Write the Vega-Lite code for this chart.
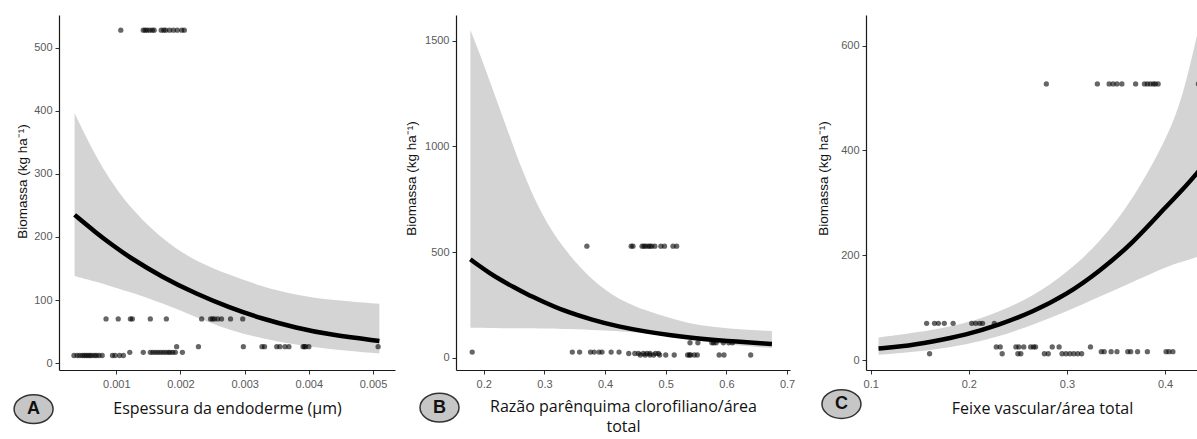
{
  "$schema": "https://vega.github.io/schema/vega-lite/v6.json",
  "padding": {"left": 11, "top": 15, "right": 0, "bottom": 3},
  "autosize": {"type": "pad"},
  "bounds": "flush",
  "spacing": 61,
  "background": "white",
  "datasets": {
    "ribA": [
      {"x": 0.00035, "y": 138, "y2": 396}, {"x": 0.00068, "y": 129, "y2": 327}, {"x": 0.00094, "y": 121, "y2": 285},
      {"x": 0.0012, "y": 113, "y2": 248}, {"x": 0.00172, "y": 95, "y2": 195}, {"x": 0.00224, "y": 73, "y2": 161},
      {"x": 0.00276, "y": 52, "y2": 140}, {"x": 0.00328, "y": 39, "y2": 121}, {"x": 0.0038, "y": 29, "y2": 108},
      {"x": 0.00432, "y": 22, "y2": 100}, {"x": 0.0051, "y": 15, "y2": 94}
    ],
    "fitA": [
      {"x": 0.00035, "y": 235}, {"x": 0.00068, "y": 207}, {"x": 0.00094, "y": 187}, {"x": 0.0012, "y": 168},
      {"x": 0.00172, "y": 136}, {"x": 0.00224, "y": 110}, {"x": 0.00276, "y": 88}, {"x": 0.00328, "y": 70},
      {"x": 0.0038, "y": 56}, {"x": 0.00432, "y": 45}, {"x": 0.0051, "y": 35}
    ],
    "ptsA": [
      {"x": 0.00107, "y": 528}, {"x": 0.00142, "y": 528}, {"x": 0.00145, "y": 528}, {"x": 0.00148, "y": 528}, {"x": 0.00152, "y": 528},
      {"x": 0.00156, "y": 528}, {"x": 0.00159, "y": 528}, {"x": 0.0017, "y": 528}, {"x": 0.00174, "y": 528}, {"x": 0.00177, "y": 528},
      {"x": 0.00183, "y": 528}, {"x": 0.00189, "y": 528}, {"x": 0.00195, "y": 528}, {"x": 0.00202, "y": 528}, {"x": 0.00206, "y": 528},
      {"x": 0.00084, "y": 70}, {"x": 0.00103, "y": 70}, {"x": 0.00122, "y": 70}, {"x": 0.00125, "y": 70}, {"x": 0.00153, "y": 70},
      {"x": 0.00178, "y": 70}, {"x": 0.00233, "y": 70}, {"x": 0.00247, "y": 70}, {"x": 0.0025, "y": 70}, {"x": 0.00253, "y": 70},
      {"x": 0.00258, "y": 70}, {"x": 0.00264, "y": 70}, {"x": 0.00278, "y": 70}, {"x": 0.00297, "y": 70},
      {"x": 0.00194, "y": 26}, {"x": 0.00228, "y": 26}, {"x": 0.00298, "y": 26}, {"x": 0.00327, "y": 26}, {"x": 0.00331, "y": 26},
      {"x": 0.0035, "y": 26}, {"x": 0.00355, "y": 26}, {"x": 0.00363, "y": 26}, {"x": 0.00369, "y": 26}, {"x": 0.00391, "y": 26},
      {"x": 0.00393, "y": 26}, {"x": 0.00395, "y": 26}, {"x": 0.004, "y": 26}, {"x": 0.00508, "y": 26},
      {"x": 0.00121, "y": 17}, {"x": 0.00142, "y": 17}, {"x": 0.00153, "y": 17}, {"x": 0.00157, "y": 17}, {"x": 0.00161, "y": 17},
      {"x": 0.00165, "y": 17}, {"x": 0.00169, "y": 17}, {"x": 0.00173, "y": 17}, {"x": 0.00177, "y": 17}, {"x": 0.00181, "y": 17},
      {"x": 0.00184, "y": 17}, {"x": 0.00188, "y": 17}, {"x": 0.00192, "y": 17}, {"x": 0.00203, "y": 17},
      {"x": 0.00034, "y": 12}, {"x": 0.00039, "y": 12}, {"x": 0.00043, "y": 12}, {"x": 0.00047, "y": 12}, {"x": 0.0005, "y": 12},
      {"x": 0.00053, "y": 12}, {"x": 0.00056, "y": 12}, {"x": 0.00059, "y": 12}, {"x": 0.00062, "y": 12}, {"x": 0.00066, "y": 12},
      {"x": 0.00069, "y": 12}, {"x": 0.00073, "y": 12}, {"x": 0.00078, "y": 12}, {"x": 0.00094, "y": 12}, {"x": 0.00098, "y": 12},
      {"x": 0.00105, "y": 12}, {"x": 0.00111, "y": 12}
    ],
    "badgeA": [{"x": -0.000289, "y": -73, "label": "A"}],
    "ribB": [
      {"x": 0.178, "y": 142, "y2": 1551}, {"x": 0.19, "y": 142, "y2": 1464}, {"x": 0.21, "y": 141, "y2": 1310},
      {"x": 0.23, "y": 140, "y2": 1150}, {"x": 0.25, "y": 140, "y2": 990}, {"x": 0.27, "y": 139, "y2": 840},
      {"x": 0.296, "y": 138, "y2": 675}, {"x": 0.33, "y": 136, "y2": 520}, {"x": 0.378, "y": 132, "y2": 365},
      {"x": 0.422, "y": 127, "y2": 275}, {"x": 0.47, "y": 115, "y2": 220}, {"x": 0.51, "y": 98, "y2": 185},
      {"x": 0.543, "y": 84, "y2": 158}, {"x": 0.598, "y": 64, "y2": 139}, {"x": 0.675, "y": 46, "y2": 126}
    ],
    "fitB": [
      {"x": 0.178, "y": 466}, {"x": 0.19, "y": 440}, {"x": 0.21, "y": 400}, {"x": 0.23, "y": 365}, {"x": 0.25, "y": 333},
      {"x": 0.27, "y": 302}, {"x": 0.296, "y": 268}, {"x": 0.33, "y": 224}, {"x": 0.378, "y": 180}, {"x": 0.422, "y": 147},
      {"x": 0.47, "y": 122}, {"x": 0.51, "y": 106}, {"x": 0.543, "y": 94}, {"x": 0.598, "y": 80}, {"x": 0.675, "y": 65}
    ],
    "ptsB": [
      {"x": 0.37, "y": 528}, {"x": 0.443, "y": 528}, {"x": 0.446, "y": 528}, {"x": 0.461, "y": 528}, {"x": 0.464, "y": 528},
      {"x": 0.467, "y": 528}, {"x": 0.471, "y": 528}, {"x": 0.474, "y": 528}, {"x": 0.477, "y": 528}, {"x": 0.482, "y": 528},
      {"x": 0.492, "y": 528}, {"x": 0.498, "y": 528}, {"x": 0.512, "y": 528}, {"x": 0.518, "y": 528},
      {"x": 0.54, "y": 71}, {"x": 0.553, "y": 71}, {"x": 0.576, "y": 71}, {"x": 0.579, "y": 71}, {"x": 0.583, "y": 71},
      {"x": 0.595, "y": 71}, {"x": 0.604, "y": 71}, {"x": 0.61, "y": 71},
      {"x": 0.181, "y": 27}, {"x": 0.346, "y": 27}, {"x": 0.358, "y": 27}, {"x": 0.376, "y": 27}, {"x": 0.382, "y": 27},
      {"x": 0.39, "y": 27}, {"x": 0.395, "y": 27}, {"x": 0.41, "y": 27}, {"x": 0.423, "y": 27},
      {"x": 0.439, "y": 20}, {"x": 0.449, "y": 20}, {"x": 0.455, "y": 20}, {"x": 0.463, "y": 20}, {"x": 0.469, "y": 20},
      {"x": 0.474, "y": 20}, {"x": 0.483, "y": 20}, {"x": 0.488, "y": 20},
      {"x": 0.458, "y": 13}, {"x": 0.466, "y": 13}, {"x": 0.474, "y": 13}, {"x": 0.48, "y": 13}, {"x": 0.49, "y": 13},
      {"x": 0.5, "y": 13}, {"x": 0.514, "y": 13}, {"x": 0.536, "y": 13}, {"x": 0.539, "y": 13}, {"x": 0.541, "y": 13},
      {"x": 0.547, "y": 13}, {"x": 0.552, "y": 13}, {"x": 0.588, "y": 13}, {"x": 0.596, "y": 13}, {"x": 0.64, "y": 13}
    ],
    "badgeB": [{"x": 0.1271, "y": -236, "label": "B"}],
    "ribC": [
      {"x": 0.108, "y": 10, "y2": 43}, {"x": 0.129, "y": 13, "y2": 48}, {"x": 0.163, "y": 19, "y2": 57},
      {"x": 0.197, "y": 29, "y2": 70}, {"x": 0.231, "y": 45, "y2": 92}, {"x": 0.265, "y": 67, "y2": 121},
      {"x": 0.299, "y": 92, "y2": 165}, {"x": 0.333, "y": 121, "y2": 223}, {"x": 0.367, "y": 149, "y2": 305},
      {"x": 0.401, "y": 178, "y2": 420}, {"x": 0.418, "y": 188, "y2": 500}, {"x": 0.435, "y": 198, "y2": 640}
    ],
    "fitC": [
      {"x": 0.108, "y": 22}, {"x": 0.129, "y": 25}, {"x": 0.163, "y": 35}, {"x": 0.197, "y": 48}, {"x": 0.231, "y": 67},
      {"x": 0.265, "y": 92}, {"x": 0.299, "y": 124}, {"x": 0.333, "y": 169}, {"x": 0.367, "y": 223}, {"x": 0.401, "y": 293},
      {"x": 0.418, "y": 325}, {"x": 0.435, "y": 362}
    ],
    "ptsC": [
      {"x": 0.279, "y": 527}, {"x": 0.331, "y": 527}, {"x": 0.343, "y": 527}, {"x": 0.347, "y": 527}, {"x": 0.351, "y": 527},
      {"x": 0.356, "y": 527}, {"x": 0.37, "y": 527}, {"x": 0.379, "y": 527}, {"x": 0.382, "y": 527}, {"x": 0.385, "y": 527},
      {"x": 0.388, "y": 527}, {"x": 0.39, "y": 527}, {"x": 0.393, "y": 527}, {"x": 0.434, "y": 527},
      {"x": 0.157, "y": 70}, {"x": 0.165, "y": 70}, {"x": 0.169, "y": 70}, {"x": 0.175, "y": 70}, {"x": 0.184, "y": 70},
      {"x": 0.203, "y": 70}, {"x": 0.207, "y": 70}, {"x": 0.211, "y": 70}, {"x": 0.214, "y": 70}, {"x": 0.226, "y": 70},
      {"x": 0.228, "y": 25}, {"x": 0.232, "y": 25}, {"x": 0.248, "y": 25}, {"x": 0.251, "y": 25}, {"x": 0.256, "y": 25},
      {"x": 0.263, "y": 25}, {"x": 0.266, "y": 25}, {"x": 0.268, "y": 25}, {"x": 0.285, "y": 25}, {"x": 0.292, "y": 25},
      {"x": 0.324, "y": 25},
      {"x": 0.335, "y": 16}, {"x": 0.338, "y": 16}, {"x": 0.345, "y": 16}, {"x": 0.351, "y": 16}, {"x": 0.362, "y": 16},
      {"x": 0.365, "y": 16}, {"x": 0.372, "y": 16}, {"x": 0.382, "y": 16}, {"x": 0.401, "y": 16}, {"x": 0.404, "y": 16},
      {"x": 0.408, "y": 16},
      {"x": 0.16, "y": 12}, {"x": 0.234, "y": 12}, {"x": 0.25, "y": 12}, {"x": 0.253, "y": 12}, {"x": 0.277, "y": 12},
      {"x": 0.281, "y": 12}, {"x": 0.295, "y": 12}, {"x": 0.299, "y": 12}, {"x": 0.303, "y": 12}, {"x": 0.307, "y": 12},
      {"x": 0.311, "y": 12}, {"x": 0.315, "y": 12}
    ],
    "badgeC": [{"x": 0.0702, "y": -84, "label": "C"}]
  },
  "hconcat": [
    {
      "width": 336,
      "height": 355,
      "encoding": {
        "x": {"field": "x", "type": "quantitative", "scale": {"domain": [0.000107, 0.005343], "nice": false, "zero": false},
          "axis": {"values": [0.001, 0.002, 0.003, 0.004, 0.005], "format": ".3f", "title": "Espessura da endoderme (µm)"}},
        "y": {"field": "y", "type": "quantitative", "scale": {"domain": [-11, 552], "nice": false, "zero": false},
          "axis": {"values": [0, 100, 200, 300, 400, 500], "format": "d", "title": "Biomassa (kg ha⁻¹)", "titlePadding": 4, "titleY": 166}}
      },
      "layer": [
        {"data": {"name": "ribA"}, "mark": {"type": "area", "color": "#d4d4d4", "interpolate": "basis"}, "encoding": {"y2": {"field": "y2"}}},
        {"data": {"name": "ptsA"}, "mark": {"type": "circle", "size": 28, "color": "#000000", "opacity": 0.6}, "encoding": {}},
        {"data": {"name": "fitA"}, "mark": {"type": "line", "color": "#000000", "strokeWidth": 4.5, "interpolate": "basis"}, "encoding": {}},
        {"data": {"name": "badgeA"}, "mark": {"type": "point", "shape": "M-1.15,0A1.15,0.85,0,1,0,1.15,0A1.15,0.85,0,1,0,-1.15,0Z", "size": 1150, "filled": true, "fill": "#c6c6c6", "stroke": "#333333", "strokeWidth": 1.5, "opacity": 1}, "encoding": {}},
        {"data": {"name": "badgeA"}, "mark": {"type": "text", "font": "Liberation Sans", "fontWeight": "bold", "fontSize": 18, "color": "#111111"}, "encoding": {"text": {"field": "label"}}}
      ]
    },
    {
      "width": 349,
      "height": 355,
      "encoding": {
        "x": {"field": "x", "type": "quantitative", "scale": {"domain": [0.1543, 0.7048], "range": [0, 334], "nice": false, "zero": false},
          "axis": {"values": [0.2, 0.3, 0.4, 0.5, 0.6, 0.7], "format": ".1f", "title": ["Razão parênquima clorofiliano/área", "total"], "titleLineHeight": 20, "titlePadding": 9}},
        "y": {"field": "y", "type": "quantitative", "scale": {"domain": [-58, 1622], "nice": false, "zero": false},
          "axis": {"values": [0, 500, 1000, 1500], "format": "d", "title": "Biomassa (kg ha⁻¹)", "titlePadding": 6, "titleY": 163}}
      },
      "layer": [
        {"data": {"name": "ribB"}, "mark": {"type": "area", "color": "#d4d4d4", "interpolate": "basis"}, "encoding": {"y2": {"field": "y2"}}},
        {"data": {"name": "ptsB"}, "mark": {"type": "circle", "size": 28, "color": "#000000", "opacity": 0.6}, "encoding": {}},
        {"data": {"name": "fitB"}, "mark": {"type": "line", "color": "#000000", "strokeWidth": 4.5, "interpolate": "basis"}, "encoding": {}},
        {"data": {"name": "badgeB"}, "mark": {"type": "point", "shape": "M-1.15,0A1.15,0.85,0,1,0,1.15,0A1.15,0.85,0,1,0,-1.15,0Z", "size": 1150, "filled": true, "fill": "#c6c6c6", "stroke": "#333333", "strokeWidth": 1.5, "opacity": 1}, "encoding": {}},
        {"data": {"name": "badgeB"}, "mark": {"type": "text", "font": "Liberation Sans", "fontWeight": "bold", "fontSize": 18, "color": "#111111"}, "encoding": {"text": {"field": "label"}}}
      ]
    },
    {
      "width": 333,
      "height": 355,
      "encoding": {
        "x": {"field": "x", "type": "quantitative", "scale": {"domain": [0.0952, 0.4346], "nice": false, "zero": false},
          "axis": {"values": [0.1, 0.2, 0.3, 0.4], "format": ".1f", "title": "Feixe vascular/área total", "titleX": 176}},
        "y": {"field": "y", "type": "quantitative", "scale": {"domain": [-19, 658.5], "nice": false, "zero": false},
          "axis": {"values": [0, 200, 400, 600], "format": "d", "title": "Biomassa (kg ha⁻¹)", "titlePadding": 10, "titleY": 163}}
      },
      "layer": [
        {"data": {"name": "ribC"}, "mark": {"type": "area", "color": "#d4d4d4", "interpolate": "basis", "clip": true}, "encoding": {"y2": {"field": "y2"}}},
        {"data": {"name": "ptsC"}, "mark": {"type": "circle", "size": 28, "color": "#000000", "opacity": 0.6, "clip": true}, "encoding": {}},
        {"data": {"name": "fitC"}, "mark": {"type": "line", "color": "#000000", "strokeWidth": 4.5, "interpolate": "basis", "clip": true}, "encoding": {}},
        {"data": {"name": "badgeC"}, "mark": {"type": "point", "shape": "M-1.15,0A1.15,0.85,0,1,0,1.15,0A1.15,0.85,0,1,0,-1.15,0Z", "size": 1150, "filled": true, "fill": "#c6c6c6", "stroke": "#333333", "strokeWidth": 1.5, "opacity": 1}, "encoding": {}},
        {"data": {"name": "badgeC"}, "mark": {"type": "text", "font": "Liberation Sans", "fontWeight": "bold", "fontSize": 18, "color": "#111111"}, "encoding": {"text": {"field": "label"}}}
      ]
    }
  ],
  "config": {
    "view": {"stroke": null},
    "axis": {
      "grid": false,
      "domainColor": "#1a1a1a",
      "domainWidth": 1.2,
      "tickColor": "#333333",
      "tickSize": 4,
      "tickWidth": 1,
      "labelFont": "Liberation Sans",
      "labelFontSize": 11,
      "labelColor": "#5a5a5a",
      "labelPadding": 3,
      "titleFontWeight": "normal",
      "titleColor": "#111111"
    },
    "axisX": {"labelPadding": 4, "labelFlush": false, "titleFont": "Open Sans", "titleFontSize": 16, "titlePadding": 11, "titleLineHeight": 20},
    "axisY": {"titleFont": "Liberation Sans", "titleFontSize": 13.5}
  }
}
